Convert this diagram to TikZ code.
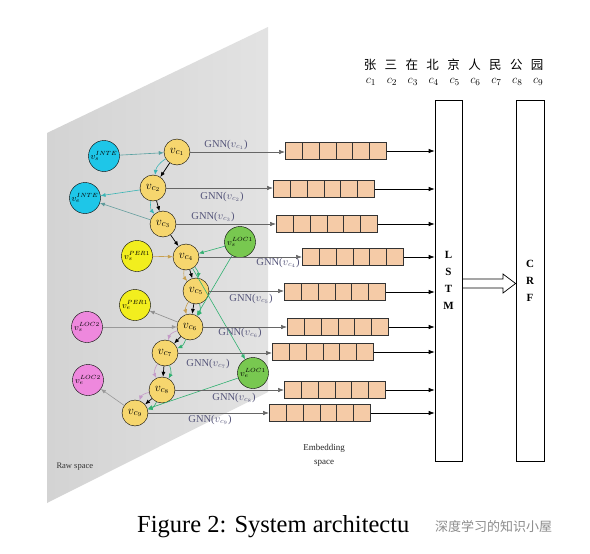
\documentclass[tikz,border=0pt]{standalone}
\usepackage{fontspec}
\setmainfont{Liberation Serif}
\newfontfamily\cjk{Noto Sans CJK SC}
\usetikzlibrary{arrows.meta,calc}
\definecolor{cfill}{HTML}{F6D66E}
\definecolor{cyanf}{HTML}{1EC6E8}
\definecolor{yelf}{HTML}{F2EE1E}
\definecolor{grnf}{HTML}{78C850}
\definecolor{magf}{HTML}{EE88DD}
\definecolor{embf}{HTML}{F5CBA7}
\definecolor{gnnc}{HTML}{55557A}
\definecolor{rawg}{HTML}{D3D3D3}
\definecolor{tealE}{HTML}{3AB5B5}
\definecolor{goldE}{HTML}{C8A050}
\definecolor{mauveE}{HTML}{C49AC8}
\definecolor{greenE}{HTML}{30B070}
\tikzset{
  cn/.style={circle,draw=black,fill=cfill,minimum size=26pt,inner sep=0pt,font=\fontsize{13}{13}\selectfont},
  gz/.style={circle,draw=black,minimum size=31pt,inner sep=0pt,font=\fontsize{9}{9}\selectfont},
  emb/.style={draw=black!80,fill=embf,minimum width=101pt,minimum height=17pt,inner sep=0pt,line width=0.7pt},
  gnnlab/.style={text=gnnc,font=\fontsize{10.5}{11}\selectfont,inner sep=0pt},
  gnnarr/.style={draw=black!60,line width=0.6pt,-{Latex[length=6pt,width=4.5pt]}},
  outarr/.style={draw=black,line width=0.7pt,-{Latex[length=6pt,width=4.5pt]}},
  chainE/.style={draw=black,line width=0.7pt,-{Latex[length=5pt,width=4pt]}},
  cyE/.style={draw=tealE,line width=0.6pt,-{Latex[length=5pt,width=4pt]}},
  goE/.style={draw=goldE,line width=0.6pt,-{Latex[length=5pt,width=4pt]}},
  grE/.style={draw=greenE,line width=0.6pt,-{Latex[length=5pt,width=4pt]}},
  maE/.style={draw=mauveE,line width=0.6pt,-{Latex[length=5pt,width=4pt]}},
  tall/.style={draw=black,line width=0.7pt,minimum width=27pt,minimum height=361pt,inner sep=0pt,align=center,font=\bfseries\fontsize{11}{17}\selectfont},
  chr/.style={font=\cjk\fontsize{12.5}{12.5}\selectfont,inner sep=0pt},
  cil/.style={font=\fontsize{12.5}{12.5}\selectfont,inner sep=0pt}
}
\newcommand{\gzl}[2]{$v_{#1}^{#2}$}
\begin{document}
\begin{tikzpicture}[x=1pt,y=-1pt]
\useasboundingbox (0,0) rectangle (590,554);
\fill[white] (0,0) rectangle (590,554);
% raw space plane
\shade[left color=rawg,right color=rawg!65] (47,133) -- (268,27) -- (268,392) -- (47,503) -- cycle;
\node[anchor=west,font=\fontsize{8.5}{9}\selectfont,text=black!80] (raw) at (53,467) {Raw space};

% character nodes
\node[cn] (c1) at (177,152) {$v_{c_1}$};
\node[cn] (c2) at (153,188) {$v_{c_2}$};
\node[cn] (c3) at (163,224) {$v_{c_3}$};
\node[cn] (c4) at (186,257) {$v_{c_4}$};
\node[cn] (c5) at (196,291) {$v_{c_5}$};
\node[cn] (c6) at (190,327) {$v_{c_6}$};
\node[cn] (c7) at (165,353) {$v_{c_7}$};
\node[cn] (c8) at (162,390) {$v_{c_8}$};
\node[cn] (c9) at (135,413) {$v_{c_9}$};

% gazetteer nodes
\node[gz,fill=cyanf] (vsI) at (104,156) {\gzl{s}{INTE}};
\node[gz,fill=cyanf] (veI) at (85,198) {\gzl{e}{INTE}};
\node[gz,fill=yelf] (vsP) at (137,256) {\gzl{s}{PER1}};
\node[gz,fill=yelf] (veP) at (135,305) {\gzl{e}{PER1}};
\node[gz,fill=grnf] (vsL1) at (240,242) {\gzl{s}{LOC1}};
\node[gz,fill=grnf] (veL1) at (253,373) {\gzl{e}{LOC1}};
\node[gz,fill=magf] (vsL2) at (87,327) {\gzl{s}{LOC2}};
\node[gz,fill=magf] (veL2) at (88,380) {\gzl{e}{LOC2}};

% coloured gazetteer edges
\draw[cyE,draw=tealE!60!gray] (vsI) -- (c1);
\draw[cyE] (c1) to[bend right=25] (c2);
\draw[cyE] (c2) -- (veI);
\draw[cyE] (c2) to[bend right=25] (c3);
\draw[cyE,draw=tealE!50!gray] (c3) -- (veI);

\draw[goE] (vsP) -- (c4);
\draw[goE] (c4) to[bend right=25] (c5);
\draw[goE] (c5) to[bend right=25] (c6);
\draw[goE,draw=black!45] (c6) -- (veP);

\draw[grE] (vsL1) -- (c4);
\draw[grE] (c4) to[bend left=25] (c5);
\draw[grE] (c5) to[bend left=25] (c6);
\draw[grE] (vsL1) -- (c6);
\draw[grE] (c4) -- (veL1);
\draw[grE] (c6) to[bend left=25] (c7);
\draw[grE] (c7) to[bend left=25] (c8);
\draw[grE] (c8) to[bend left=25] (c9);
\draw[grE] (veL1) -- (c9);

\draw[maE,draw=black!40] (vsL2) -- (c6);
\draw[maE] (c6) to[bend right=30] (c7);
\draw[maE] (c7) to[bend right=30] (c8);
\draw[maE] (c8) to[bend right=30] (c9);
\draw[maE,draw=black!40] (c9) -- (veL2);

% character chain
\draw[chainE] (c1) -- (c2);
\draw[chainE] (c2) -- (c3);
\draw[chainE] (c3) -- (c4);
\draw[chainE] (c4) -- (c5);
\draw[chainE] (c5) -- (c6);
\draw[chainE] (c6) -- (c7);
\draw[chainE] (c7) -- (c8);
\draw[chainE] (c8) -- (c9);

% embedding rows
\node[emb,anchor=west] (e1) at (285,151) {};
\node[emb,anchor=west] (e2) at (273,189) {};
\node[emb,anchor=west] (e3) at (276,224) {};
\node[emb,anchor=west] (e4) at (302,257) {};
\node[emb,anchor=west] (e5) at (284,292) {};
\node[emb,anchor=west] (e6) at (287,327) {};
\node[emb,anchor=west] (e7) at (272,352) {};
\node[emb,anchor=west] (e8) at (284,390) {};
\node[emb,anchor=west] (e9) at (269,413) {};
\foreach \i in {1,...,9}{
  \foreach \k in {1,...,5}{
    \draw[black!80,line width=0.7pt] ($(e\i.north west)!\k/6!(e\i.north east)$) -- ($(e\i.south west)!\k/6!(e\i.south east)$);
  }
}

% LSTM and CRF
\node[tall] (lstm) at (448.5,280.5) {L\\S\\T\\M};
\node[tall,minimum width=28pt] (crf) at (530,280.5) {C\\R\\F};
\draw[line width=0.7pt] (lstm.east |- 0,279) -- (503,279) -- (503,274) -- (crf.west |- 0,283.5) -- (503,293) -- (503,288) -- (lstm.east |- 0,288) ;

% GNN arrows
\foreach \i in {1,...,9}{
  \draw[gnnarr] (c\i) -- (c\i -| e\i.west);
  \draw[outarr] (e\i.east) -- (e\i.east -| lstm.west);
}
\node[gnnlab] (g1) at (226,145) {GNN($v_{c_1}$)};
\node[gnnlab] (g2) at (222,197) {GNN($v_{c_2}$)};
\node[gnnlab] (g3) at (213,217) {GNN($v_{c_3}$)};
\node[gnnlab] (g4) at (278,263) {GNN($v_{c_4}$)};
\node[gnnlab] (g5) at (251,299) {GNN($v_{c_5}$)};
\node[gnnlab] (g6) at (240,333) {GNN($v_{c_6}$)};
\node[gnnlab] (g7) at (208,364) {GNN($v_{c_7}$)};
\node[gnnlab] (g8) at (234,398) {GNN($v_{c_8}$)};
\node[gnnlab] (g9) at (210,420) {GNN($v_{c_9}$)};

% sentence
\foreach \ch [count=\n] in {张,三,在,北,京,人,民,公,园}{
  \node[chr] (h\n) at ({370+20.9*(\n-1)},65) {\ch};
  \node[cil] (ci\n) at ({371+20.9*(\n-1)},82) {$c_{\n}$};
}

% texts
\node[font=\fontsize{9}{14}\selectfont,align=center,text=black!85] (embtxt) at (324,455) {Embedding\\space};
\node[font=\fontsize{24.5}{25}\selectfont,anchor=west,inner sep=0pt] (cap) at (137,527) {Figure 2: System architectu};
\node[font=\cjk\fontsize{13}{13}\selectfont,text=black!45,anchor=west,inner sep=0pt] (wm) at (435,527) {深度学习的知识小屋};
\end{tikzpicture}
\end{document}
